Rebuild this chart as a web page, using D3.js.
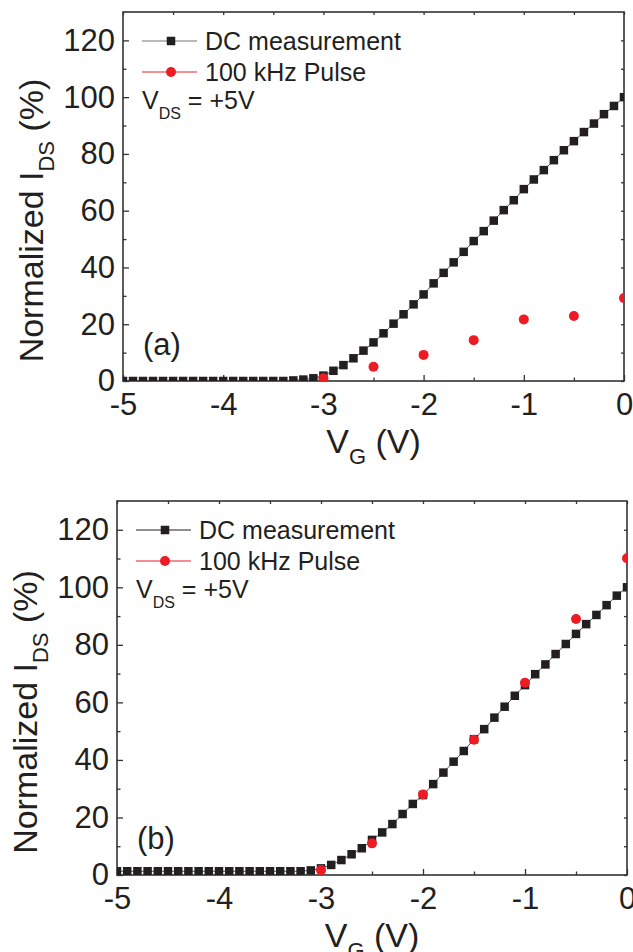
<!DOCTYPE html>
<html>
<head>
<meta charset="utf-8">
<script src="https://cdn.jsdelivr.net/npm/d3@7"></script>
<style>
  body { margin: 0; background: #fff; }
  svg { display: block; }
  text { font-family: "Liberation Sans", Arial, sans-serif; fill: #231f20; }
</style>
</head>
<body>
<div id="chart"></div>
<script>
// Gate voltage of the DC sweep (V)
const vgDC = [-5.0, -4.9, -4.8, -4.7, -4.6, -4.5, -4.4, -4.3, -4.2, -4.1,
              -4.0, -3.9, -3.8, -3.7, -3.6, -3.5, -3.4, -3.3, -3.2, -3.1,
              -3.0, -2.9, -2.8, -2.7, -2.6, -2.5, -2.4, -2.3, -2.2, -2.1,
              -2.0, -1.9, -1.8, -1.7, -1.6, -1.5, -1.4, -1.3, -1.2, -1.1,
              -1.0, -0.9, -0.8, -0.7, -0.6, -0.5, -0.4, -0.3, -0.2, -0.1, 0.0];

// Normalized I_DS (%) of the DC sweep, panel (a) and panel (b)
const dcA = [0, 0, 0, 0, 0, 0, 0, 0, 0, 0,
             0, 0, 0, 0, 0, 0, 0, 0.2, 0.5, 0.95,
             1.9, 3.6, 5.6, 8.0, 10.7, 13.6, 16.8, 20.2, 23.5, 27.0,
             30.5, 34.4, 38.1, 41.8, 45.5, 49.3, 52.8, 56.5, 60.2, 63.7,
             67.6, 71.0, 74.3, 77.8, 81.3, 84.5, 87.7, 90.7, 94.0, 96.9, 100];
const dcB = [1.3, 1.3, 1.3, 1.3, 1.3, 1.3, 1.3, 1.3, 1.3, 1.3,
             1.3, 1.3, 1.3, 1.3, 1.3, 1.3, 1.3, 1.3, 1.3, 1.6,
             2.3, 3.5, 5.2, 7.2, 9.3, 12.2, 14.8, 17.7, 21.2, 24.7,
             27.8, 31.6, 35.6, 39.4, 43.1, 47.2, 50.7, 54.7, 58.5, 62.3,
             66.0, 69.8, 73.2, 76.8, 80.3, 83.8, 87.2, 90.4, 93.8, 97.1, 100];

// 100 kHz pulse measurement
const vgPulse = [-3.0, -2.5, -2.0, -1.5, -1.0, -0.5, 0.0];
const pulseA = [1.0, 5.0, 9.2, 14.4, 21.7, 22.9, 29.2];
const pulseB = [1.7, 11.0, 28.0, 47.0, 66.8, 89.0, 110.1];

// Ticks
const xTicks = [-5, -4, -3, -2, -1, 0];
const xMinor = [-4.5, -3.5, -2.5, -1.5, -0.5];
const yTicks = [0, 20, 40, 60, 80, 100, 120];
const yMinor = [10, 30, 50, 70, 90, 110];
const seriesNames = ["DC measurement", "100 kHz Pulse"];
const panelLabels = ["(a)", "(b)"];

const width = 633, height = 952;
const dcColor = "#231f20";
const pulseColor = "#ed1c24";
const axisColor = "#333";

const panels = [
    {label: panelLabels[0], dc: dcA, pulse: pulseA,
     box: {left: 123, right: 624, top: 12, bottom: 381}, yLabelX: 43, legendLine: "#777"},
    {label: panelLabels[1], dc: dcB, pulse: pulseB,
     box: {left: 117, right: 627, top: 501, bottom: 875}, yLabelX: 37, legendLine: "#231f20"}
];

const svg = d3.select("#chart").append("svg")
    .attr("width", width)
    .attr("height", height);

panels.forEach((p, i) => {
    const b = p.box;
    const x = d3.scaleLinear().domain([-5, 0]).range([b.left, b.right]);
    const y = d3.scaleLinear().domain([0, 130]).range([b.bottom, b.top]);
    const g = svg.append("g");

    // clip the data to the frame
    const clipId = "clip" + i;
    svg.append("clipPath").attr("id", clipId)
        .append("rect")
        .attr("x", b.left).attr("y", b.top)
        .attr("width", b.right - b.left).attr("height", b.bottom - b.top);

    // axes with inward ticks, plain hyphen for negatives like the original
    const fmt = d => String(d);
    const styleAxis = sel => {
        sel.select(".domain").remove();
        sel.selectAll(".tick line").attr("stroke", axisColor).attr("stroke-width", 1.3);
        sel.selectAll(".tick text").attr("font-size", 31).attr("fill", "#231f20");
    };
    g.append("g").attr("transform", `translate(0,${b.bottom})`)
        .call(d3.axisBottom(x).tickValues(xTicks).tickSize(-6).tickPadding(12).tickFormat(fmt))
        .call(styleAxis);
    g.append("g").attr("transform", `translate(0,${b.bottom})`)
        .call(d3.axisBottom(x).tickValues(xMinor).tickSize(-3.5).tickFormat(""))
        .call(styleAxis);
    g.append("g").attr("transform", `translate(${b.left},0)`)
        .call(d3.axisLeft(y).tickValues(yTicks).tickSize(-6).tickPadding(8).tickFormat(fmt))
        .call(styleAxis);
    g.append("g").attr("transform", `translate(${b.left},0)`)
        .call(d3.axisLeft(y).tickValues(yMinor).tickSize(-3.5).tickFormat(""))
        .call(styleAxis);
    // mirrored ticks on top and right
    g.append("g").attr("transform", `translate(0,${b.top})`)
        .call(d3.axisTop(x).tickValues(xTicks.concat(xMinor)).tickSize(-3).tickFormat(""))
        .call(styleAxis);
    g.append("g").attr("transform", `translate(${b.right},0)`)
        .call(d3.axisRight(y).tickValues(yTicks.concat(yMinor)).tickSize(-3).tickFormat(""))
        .call(styleAxis);

    // frame
    g.append("rect")
        .attr("x", b.left).attr("y", b.top)
        .attr("width", b.right - b.left).attr("height", b.bottom - b.top)
        .attr("fill", "none").attr("stroke", axisColor).attr("stroke-width", 1.6);

    // DC series: line + squares
    const data = vgDC.map((v, k) => ({vg: v, val: p.dc[k]}));
    const plot = g.append("g").attr("clip-path", `url(#${clipId})`);
    plot.append("path")
        .datum(data)
        .attr("fill", "none")
        .attr("stroke", "#555")
        .attr("stroke-width", 1)
        .attr("d", d3.line().x(d => x(d.vg)).y(d => y(d.val)));
    const sq = 8.5;
    plot.selectAll("rect.dc")
        .data(data)
        .join("rect")
        .attr("class", "dc")
        .attr("x", d => x(d.vg) - sq / 2)
        .attr("y", d => y(d.val) - sq / 2)
        .attr("width", sq).attr("height", sq)
        .attr("fill", dcColor);

    // Pulse series: red dots
    plot.selectAll("circle.pulse")
        .data(vgPulse.map((v, k) => ({vg: v, val: p.pulse[k]})))
        .join("circle")
        .attr("class", "pulse")
        .attr("cx", d => x(d.vg))
        .attr("cy", d => y(d.val))
        .attr("r", 5)
        .attr("fill", pulseColor);

    // legend
    const lx0 = b.left + 19, lx1 = b.left + 74, lm = b.left + 48, lt = b.left + 82;
    const r1 = b.top + 29, r2 = b.top + 60;
    g.append("line").attr("x1", lx0).attr("x2", lx1).attr("y1", r1).attr("y2", r1)
        .attr("stroke", p.legendLine).attr("stroke-width", 1.2);
    g.append("rect").attr("x", lm - sq / 2).attr("y", r1 - sq / 2)
        .attr("width", sq).attr("height", sq).attr("fill", dcColor);
    g.append("text").attr("x", lt).attr("y", r1 + 9).attr("font-size", 25).text(seriesNames[0]);

    g.append("line").attr("x1", lx0).attr("x2", lx1).attr("y1", r2).attr("y2", r2)
        .attr("stroke", pulseColor).attr("stroke-width", 1.2);
    g.append("circle").attr("cx", lm).attr("cy", r2).attr("r", 5).attr("fill", pulseColor);
    g.append("text").attr("x", lt).attr("y", r2 + 9).attr("font-size", 25).text(seriesNames[1]);

    const vds = g.append("text").attr("x", lx0).attr("y", b.top + 97).attr("font-size", 25);
    vds.append("tspan").text("V");
    vds.append("tspan").attr("font-size", 16).attr("dy", 10).text("DS");
    vds.append("tspan").attr("dy", -10).text(" = +5V");

    // panel label
    g.append("text").attr("x", b.left + 20).attr("y", b.bottom - 26)
        .attr("font-size", 31).text(p.label);

    // axis titles
    const xt = g.append("text")
        .attr("x", (b.left + b.right) / 2).attr("y", b.bottom + 72)
        .attr("text-anchor", "middle").attr("font-size", 34);
    xt.append("tspan").text("V");
    xt.append("tspan").attr("font-size", 22).attr("dy", 11).text("G");
    xt.append("tspan").attr("dy", -11).text(" (V)");

    const yt = g.append("text")
        .attr("transform", `translate(${p.yLabelX},${(b.top + b.bottom) / 2 + 24}) rotate(-90)`)
        .attr("text-anchor", "middle").attr("font-size", 34);
    yt.append("tspan").text("Normalized I");
    yt.append("tspan").attr("font-size", 22).attr("dy", 11).text("DS");
    yt.append("tspan").attr("dy", -11).text(" (%)");
});
</script>
</body>
</html>
